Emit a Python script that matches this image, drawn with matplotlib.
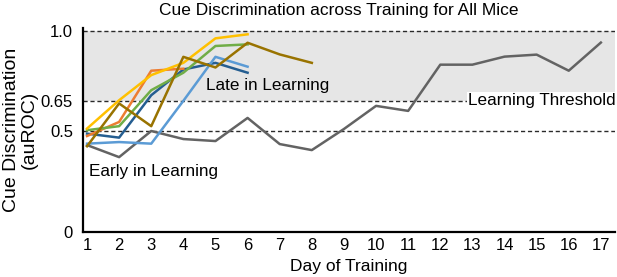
import matplotlib.pyplot as plt
import numpy as np

plt.rcParams['font.family'] = ['Liberation Sans', 'DejaVu Sans']

# days for each mouse
days_long = np.arange(1, 18)
days6 = np.arange(1, 7)
days_orange = np.arange(1, 5)
days_brown = np.arange(1, 9)

# auROC values
gray_vals = [0.43, 0.37, 0.50, 0.46, 0.45, 0.565, 0.435, 0.405, 0.51,
             0.625, 0.60, 0.83, 0.83, 0.87, 0.88, 0.80, 0.94]
darkblue_vals = [0.487, 0.467, 0.678, 0.806, 0.839, 0.79]
orange_vals = [0.475, 0.545, 0.80, 0.81]
green_vals = [0.504, 0.524, 0.703, 0.79, 0.923, 0.931]
lightblue_vals = [0.437, 0.445, 0.437, 0.65, 0.869, 0.82]
yellow_vals = [0.512, 0.653, 0.778, 0.839, 0.961, 0.981]
brown_vals = [0.424, 0.637, 0.524, 0.869, 0.816, 0.939, 0.881, 0.839]

yticks = [0, 0.5, 0.65, 1.0]
ytick_labels = ['0', '0.5', '0.65', '1.0']

fig = plt.figure(figsize=(6.17, 2.77), dpi=100)
ax = fig.add_axes([82.7 / 617, (277 - 231.5) / 277, 532.3 / 617, 201 * 1.01 / 277])

ax.axhspan(0.65, 1.0, color='#e6e6e6', zorder=0, lw=0)
for yv in [0.5, 0.65, 1.0]:
    ax.axhline(yv, color='#2a2a2a', ls=(0, (3, 2)), lw=1.0, zorder=1)

lw = 1.8
ax.plot(days_long, gray_vals, color='#636363', lw=lw, zorder=3)
ax.plot(days6, darkblue_vals, color='#255e91', lw=lw, zorder=3)
ax.plot(days_orange, orange_vals, color='#ed7d31', lw=lw, zorder=3)
ax.plot(days6, green_vals, color='#70ad47', lw=lw, zorder=3)
ax.plot(days6, lightblue_vals, color='#5b9bd5', lw=lw, zorder=3)
ax.plot(days6, yellow_vals, color='#ffc000', lw=lw, zorder=3)
ax.plot(days_brown, brown_vals, color='#997300', lw=lw, zorder=3)

ax.text(4.70, 0.728, 'Late in Learning', fontsize=12.3, va='center', ha='left', zorder=4)
ax.text(1.07, 0.30, 'Early in Learning', fontsize=12.3, va='center', ha='left', zorder=4)
ax.text(12.86, 0.653, 'Learning Threshold', fontsize=12.3, va='center', ha='left', zorder=4,
        bbox=dict(facecolor='white', edgecolor='none', pad=0.5))

ax.set_xlim(0.866, 17.44)
ax.set_ylim(0, 1.01)
ax.set_xticks(days_long)
ax.set_yticks(yticks)
ax.set_yticklabels(ytick_labels)
ax.tick_params(length=0, labelsize=12)
ax.tick_params(axis='y', pad=7)
ax.tick_params(axis='x', pad=5)

for s in ['top', 'right']:
    ax.spines[s].set_visible(False)
for s in ['left', 'bottom']:
    ax.spines[s].set_linewidth(1.6)

ax.set_xlabel('Day of Training', fontsize=12.5, labelpad=4)
ax.set_ylabel('Cue Discrimination\n(auROC)', fontsize=14, labelpad=2, linespacing=1.05)
fig.text(0.549, 0.963, 'Cue Discrimination across Training for All Mice', fontsize=12.5,
         ha='center', va='center')

fig.savefig('out.png', dpi=100)
